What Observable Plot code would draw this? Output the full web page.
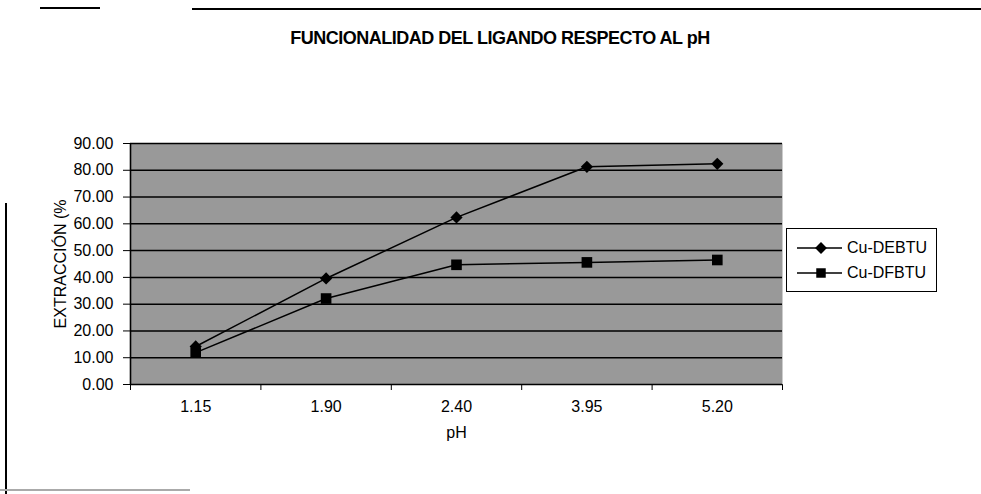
<!DOCTYPE html>
<html><head><meta charset="utf-8">
<script src="https://cdn.jsdelivr.net/npm/d3@7"></script>
<script src="https://cdn.jsdelivr.net/npm/@observablehq/plot@0.6"></script>
<style>
body{margin:0;background:#fff;font-family:"Liberation Sans",Arial,sans-serif;}
#wrap{position:relative;width:981px;height:494px;overflow:hidden;background:#fff;}
#chart{position:absolute;left:0;top:0;}
#title{position:absolute;top:28px;left:0;width:1000px;text-align:center;font-weight:bold;font-size:18px;letter-spacing:-0.5px;color:#000;white-space:nowrap;}
.rule{position:absolute;background:#000;}
#legend{position:absolute;left:786px;top:228px;width:151px;height:64px;border:1px solid #000;background:#fff;font-size:16px;box-sizing:border-box;padding-top:6px;}
#legend .row{display:flex;align-items:center;height:25px;}
#legend svg{margin-left:10px;margin-right:5px;}
</style></head><body>
<div id="wrap">
 <div class="rule" style="left:40px;top:7px;width:60px;height:2px"></div>
 <div class="rule" style="left:192px;top:8px;width:789px;height:2px"></div>
 <div class="rule" style="left:5px;top:203px;width:2px;height:291px"></div>
 <div class="rule" style="left:0;top:489px;width:190px;height:2px;background:#aaa"></div>
 <div id="chart"></div>
 <div id="title"></div>
 <div id="legend"></div>
</div>
<script>
const phLabels = ["1.15", "1.90", "2.40", "3.95", "5.20"];
const debtu = [14.2, 39.6, 62.4, 81.3, 82.4];
const dfbtu = [11.9, 32.1, 44.7, 45.6, 46.5];
const seriesNames = ["Cu-DEBTU", "Cu-DFBTU"];
const yTicks = [0, 10, 20, 30, 40, 50, 60, 70, 80, 90];
const titleText = "FUNCIONALIDAD DEL LIGANDO RESPECTO AL pH";
const xTitle = "pH";
const yTitle = "EXTRACCIÓN (%";

const symDiamond = d3.symbolDiamond2 || d3.symbolDiamond;
const symSquare = d3.symbolSquare;
const symbols = [symDiamond, symSquare];

const rows = [];
[debtu, dfbtu].forEach((vals, s) => {
  vals.forEach((v, i) => rows.push({series: seriesNames[s], i, ph: phLabels[i], value: v}));
});
const bounds = d3.range(phLabels.length + 1).map(k => k - 0.5);

const chart = Plot.plot({
  width: 981,
  height: 494,
  marginLeft: 130,
  marginRight: 199,
  marginTop: 143,
  marginBottom: 110,
  style: {fontFamily: "Liberation Sans, Arial, sans-serif", fontSize: "16px", color: "#000", background: "transparent"},
  x: {
    domain: [bounds[0], bounds[bounds.length - 1]],
    ticks: bounds,
    tickFormat: () => "",
    tickSize: 6,
    label: null
  },
  y: {
    domain: [0, 90],
    ticks: yTicks,
    tickFormat: d => d.toFixed(2),
    tickSize: 7,
    tickPadding: 10,
    label: null
  },
  marks: [
    Plot.frame({fill: "#999999", stroke: null}),
    Plot.ruleY(yTicks.filter(d => d > 0), {stroke: "#000", strokeWidth: 1.5}),
    Plot.ruleY([0], {stroke: "#000", strokeWidth: 1.3}),
    Plot.ruleX([bounds[0]], {stroke: "#000", strokeWidth: 1.6}),
    Plot.text(phLabels, {x: (d, i) => i, frameAnchor: "bottom", dy: 27, fontSize: 16}),
    Plot.text([xTitle], {x: [2], frameAnchor: "bottom", dy: 53, fontSize: 16}),
    Plot.text([yTitle], {frameAnchor: "left", rotate: -90, textAnchor: "middle", dx: -70, fontSize: 16}),
    Plot.line(rows, {x: "i", y: "value", z: "series", stroke: "#000", strokeWidth: 1.5}),
    Plot.dot(rows.filter(r => r.series === seriesNames[0]), {x: "i", y: "value", symbol: () => symDiamond, r: 5.5, fill: "#000", stroke: null}),
    Plot.dot(rows.filter(r => r.series === seriesNames[1]), {x: "i", y: "value", symbol: () => symSquare, r: 6, fill: "#000", stroke: null})
  ]
});
document.getElementById("chart").appendChild(chart);
document.getElementById("title").textContent = titleText;

const legend = document.getElementById("legend");
seriesNames.forEach((name, s) => {
  const row = document.createElement("div");
  row.className = "row";
  const svg = d3.create("svg").attr("width", 45).attr("height", 14);
  svg.append("line").attr("x1", 0).attr("x2", 45).attr("y1", 7).attr("y2", 7).attr("stroke", "#000").attr("stroke-width", 1.4);
  svg.append("path").attr("transform", "translate(24,7)").attr("d", d3.symbol(symbols[s], 90)()).attr("fill", "#000");
  row.appendChild(svg.node());
  const span = document.createElement("span");
  span.textContent = name;
  row.appendChild(span);
  legend.appendChild(row);
});
</script>
</body></html>
